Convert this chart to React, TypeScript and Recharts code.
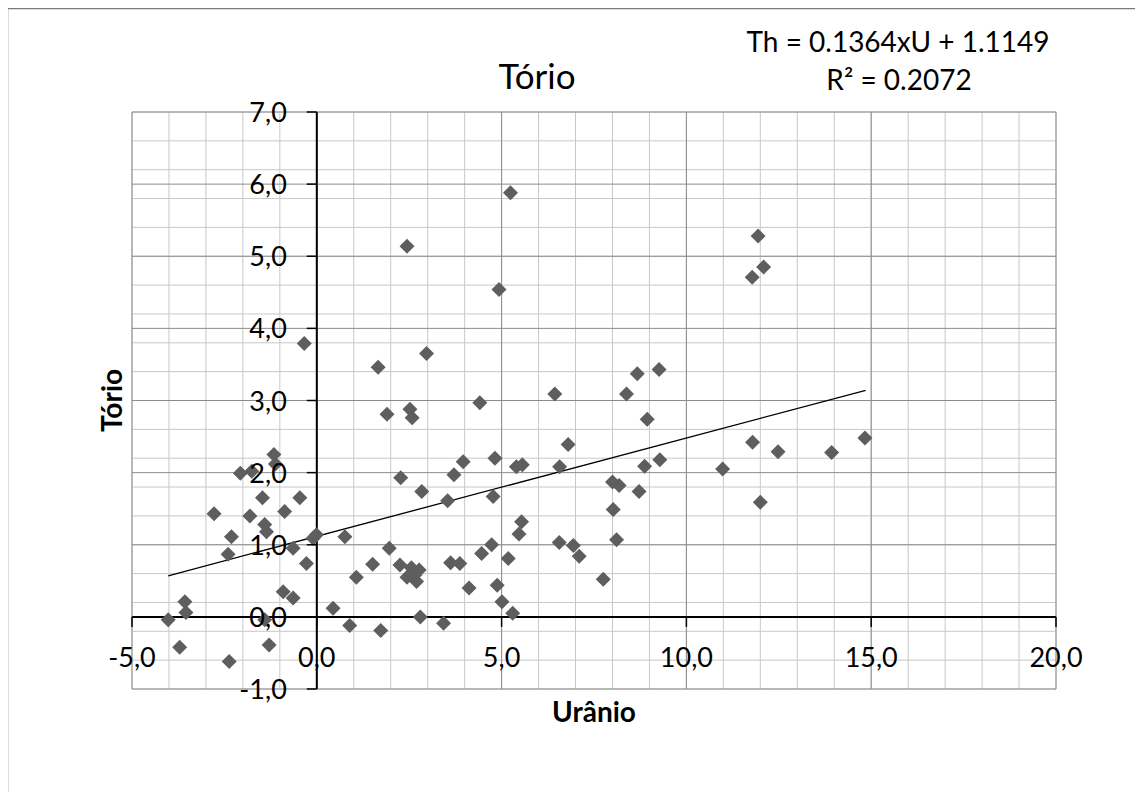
import React from "react";
import { ScatterChart, Scatter, XAxis, YAxis, CartesianGrid, ReferenceLine } from "recharts";

// Urânio (x) / Tório (y) pairs
const uranio = [
  -4.02, -3.57, -3.54, -3.71, -2.37, -2.78, -2.4, -2.31, -2.07, -1.76, -1.81, -1.47, -1.41, -1.36, -1.16, -1.12,
  -0.87, -0.64, -0.46, -0.34, -0.28, -0.1, -0.01, -0.91, -0.64, -1.41, -1.29,
  0.44, 0.89, 0.76, 1.07, 1.51, 1.73, 1.66, 1.9, 1.96, 2.25, 2.27, 2.44, 2.52, 2.58, 2.56, 2.77, 2.44, 2.7, 2.65, 2.8,
  2.84, 2.97, 3.43, 3.54, 3.62, 3.71, 3.87, 3.96, 4.12, 4.41, 4.46, 4.73, 4.77, 4.82, 4.88, 4.93, 5.01, 5.18, 5.24,
  5.3, 5.4, 5.47, 5.54, 5.56, 6.44, 6.56, 6.57, 6.8, 6.94, 7.1, 7.75, 8.0, 8.02, 8.11, 8.18, 8.38, 8.67, 8.72, 8.87,
  8.94, 9.26, 9.28, 10.98, 11.78, 11.79, 11.94, 12.0, 12.09, 12.48, 13.93, 14.83,
];
const torio = [
  -0.04, 0.21, 0.06, -0.42, -0.62, 1.43, 0.87, 1.11, 1.99, 2.02, 1.4, 1.65, 1.28, 1.18, 2.25, 2.12,
  1.46, 0.95, 1.65, 3.79, 0.74, 1.09, 1.14, 0.35, 0.26, -0.04, -0.39,
  0.12, -0.12, 1.11, 0.55, 0.73, -0.19, 3.46, 2.81, 0.95, 0.72, 1.93, 5.14, 2.88, 2.76, 0.68, 0.65, 0.55, 0.49, 0.58, 0.0,
  1.74, 3.65, -0.09, 1.61, 0.75, 1.97, 0.74, 2.15, 0.4, 2.97, 0.88, 1.0, 1.67, 2.2, 0.44, 4.54, 0.21, 0.81, 5.88,
  0.05, 2.08, 1.15, 1.32, 2.11, 3.09, 1.03, 2.08, 2.39, 0.99, 0.84, 0.52, 1.87, 1.49, 1.07, 1.82, 3.09, 3.37, 1.74, 2.09,
  2.74, 3.43, 2.18, 2.05, 4.71, 2.42, 5.28, 1.59, 4.85, 2.29, 2.28, 2.48,
];

// linear trendline end points
const trendU = [-4.02, 14.85];
const trendTh = [0.57, 3.14];

const xTicks = [-5, 0, 5, 10, 15, 20];
const yTicks = [-1, 0, 1, 2, 3, 4, 5, 6, 7];
const minorX = Array.from({ length: 26 }, (_, i) => -5 + i);
const minorY = Array.from({ length: 41 }, (_, i) => Math.round((-1 + i * 0.2) * 10) / 10);

const points = uranio.map((u, i) => ({ x: u, y: torio[i] }));

const FONT = "Lato, 'Noto Sans', sans-serif";
const W = 1131;
const H = 784;
// plot area: left 124, top 104, 924 x 577 (axes take 1px each)
const M = { top: 104, right: 83, bottom: 102, left: 123 };
const PL = 124;
const PW = 924;
const PH = 577;
const ZERO_X = PL + (PW * (0 - -5)) / 25;
const ZERO_Y = M.top + (PH * (7 - 0)) / 8;

const fmt = (v: number) => v.toFixed(1).replace(".", ",");

const XTick = (props: any) => {
  const { x, payload } = props;
  return (
    <g>
      <line x1={x} x2={x} y1={ZERO_Y} y2={ZERO_Y + 10} stroke="#000" strokeWidth={1.5} />
      <text x={x} y={ZERO_Y + 50} textAnchor="middle" fontSize={27} fontFamily={FONT} fill="#000">
        {fmt(payload.value)}
      </text>
    </g>
  );
};

const YTick = (props: any) => {
  const { y, payload } = props;
  return (
    <g>
      <line x1={ZERO_X - 10} x2={ZERO_X} y1={y} y2={y} stroke="#000" strokeWidth={1.5} />
      <text x={ZERO_X - 30} y={y + 10} textAnchor="end" fontSize={27} fontFamily={FONT} fill="#000">
        {fmt(payload.value)}
      </text>
    </g>
  );
};

const Diamond = (props: any) => {
  const { cx, cy } = props;
  const r = 7.5;
  return <polygon points={`${cx},${cy - r} ${cx + r},${cy} ${cx},${cy + r} ${cx - r},${cy}`} fill="#5e5e5e" />;
};

export default function App() {
  return (
    <div style={{ position: "relative", width: W, height: H, fontFamily: FONT }}>
      <div style={{ position: "absolute", left: 0, top: 0 }}>
        <ScatterChart width={W} height={H} margin={M}>
          <XAxis xAxisId="minor" type="number" dataKey="x" domain={[-5, 20]} ticks={minorX} hide allowDataOverflow />
          <YAxis yAxisId="minor" type="number" dataKey="y" domain={[-1, 7]} ticks={minorY} hide allowDataOverflow />
          <CartesianGrid xAxisId="minor" yAxisId="minor" stroke="#c8c8c8" strokeWidth={1} />
          <CartesianGrid stroke="#8c8c8c" strokeWidth={1} />
          <XAxis
            type="number"
            dataKey="x"
            domain={[-5, 20]}
            ticks={xTicks}
            interval={0}
            height={1}
            axisLine={false}
            tickLine={false}
            tick={<XTick />}
            allowDataOverflow
          />
          <YAxis
            type="number"
            dataKey="y"
            domain={[-1, 7]}
            ticks={yTicks}
            interval={0}
            width={1}
            axisLine={false}
            tickLine={false}
            tick={<YTick />}
            allowDataOverflow
          />
          <ReferenceLine x={0} stroke="#000" strokeWidth={2} />
          <ReferenceLine y={0} stroke="#000" strokeWidth={2} />
          <Scatter data={points} fill="#5e5e5e" shape={Diamond} isAnimationActive={false} />
          <ReferenceLine
            segment={[
              { x: trendU[0], y: trendTh[0] },
              { x: trendU[1], y: trendTh[1] },
            ]}
            stroke="#000"
            strokeWidth={1.3}
          />
        </ScatterChart>
      </div>
      <svg
        width={1135}
        height={784}
        style={{ position: "absolute", left: -2, top: 0, pointerEvents: "none", overflow: "visible" }}
        fontFamily={FONT}
      >
        <line x1={1.5} x2={1.5} y1={0} y2={800} stroke="#7a7a7a" strokeWidth={1.5} />
        <line x1={1133.5} x2={1133.5} y1={0} y2={800} stroke="#7a7a7a" strokeWidth={1.5} />
        <line x1={1.5} x2={1133.5} y1={0.5} y2={0.5} stroke="#7a7a7a" strokeWidth={1.5} />
        <g transform="translate(2,0)">
          <text x={529} y={81} textAnchor="middle" fontSize={35} fill="#000">
            Tório
          </text>
          <text x={890} y={44} textAnchor="middle" fontSize={28} fill="#000">
            Th = 0.1364xU + 1.1149
          </text>
          <text x={891} y={82} textAnchor="middle" fontSize={28} fill="#000">
            R² = 0.2072
          </text>
          <text x={586} y={714} textAnchor="middle" fontSize={28} fontWeight="bold" fill="#000">
            Urânio
          </text>
          <text transform="translate(114,392.5) rotate(-90)" textAnchor="middle" fontSize={28} fontWeight="bold" fill="#000">
            Tório
          </text>
        </g>
      </svg>
    </div>
  );
}
